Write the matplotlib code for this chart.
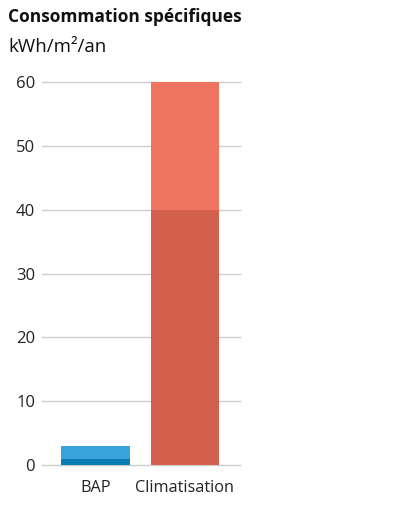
import numpy as np
import matplotlib.pyplot as plt

plt.rcParams['font.family'] = ['Open Sans', 'DejaVu Sans']

categories = ["BAP", "Climatisation"]
base = [1, 40]
top = [2, 20]
base_colors = ["#0b7cb6", "#d3604c"]
top_colors = ["#3aa3dc", "#ef7561"]
yticks = [0, 10, 20, 30, 40, 50, 60]

fig = plt.figure(figsize=(3.99, 5.05), dpi=100)
ax = fig.add_axes([42/399, 1-465/505, 198/399, (465-82)/505])

x = np.arange(len(categories))
ax.bar(x, base, width=0.77, color=base_colors, zorder=2)
ax.bar(x, top, bottom=base, width=0.77, color=top_colors, zorder=2)

ax.set_xlim(-0.598, 1.615)
ax.set_ylim(0, 60)
ax.set_yticks(yticks)
ax.set_xticks(x)
ax.set_xticklabels(categories, fontsize=11.7, color="#222222")
ax.tick_params(axis='y', length=0, pad=5, labelsize=12, labelcolor="#222222")
ax.tick_params(axis='x', length=0, pad=11)
ax.grid(axis='y', color="#cccccc", linewidth=1, zorder=0)
ax.set_axisbelow(True)
for gl in ax.get_ygridlines():
    gl.set_clip_on(False)
for s in ax.spines.values():
    s.set_visible(False)

fig.text(8/399, 1-17/505, "Consommation spécifiques", fontsize=12.5,
         fontweight='bold', va='center', ha='left', color="#111111")
fig.text(8/399, 1-47/505, "kWh/m²/an", fontsize=13.5, va='center',
         ha='left', color="#111111")

plt.savefig("out.png", dpi=100)
